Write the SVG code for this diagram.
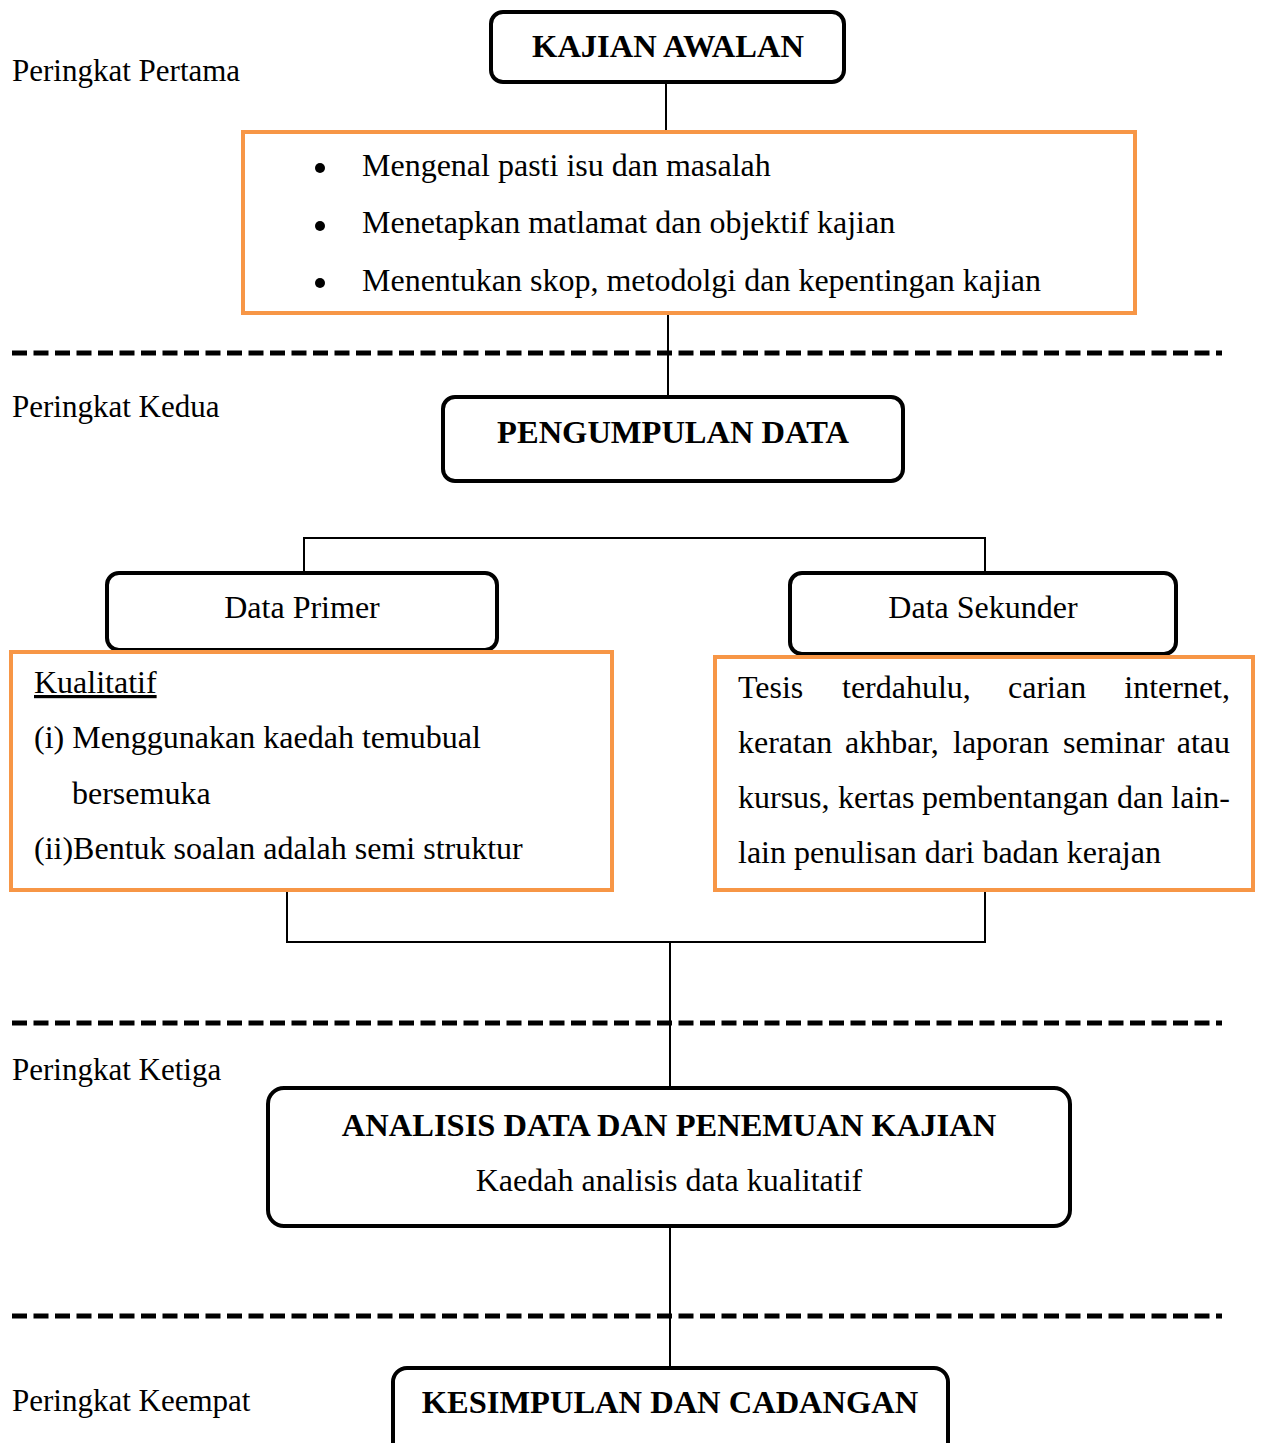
<svg xmlns="http://www.w3.org/2000/svg" width="1262" height="1443" viewBox="0 0 1262 1443">
<style>
text{font-family:"Liberation Serif","Times New Roman",serif;font-size:32px;fill:#000}
.b{font-weight:bold;font-size:32.5px}
.lb{font-size:31px}
.m{text-anchor:middle}
.box{fill:#fff;stroke:#000;stroke-width:4}
.or{fill:#fff;stroke:#F79646;stroke-width:4}
.ln{stroke:#000;stroke-width:2;fill:none}
.dash{stroke:#000;stroke-width:5;stroke-dasharray:15 6.5;fill:none}
</style>
<rect width="1262" height="1443" fill="#fff"/>
<g id="connectors">
<line class="ln" x1="666" y1="82" x2="666" y2="132"/>
<line class="ln" x1="668" y1="313" x2="668" y2="397"/>
<polyline class="ln" points="304,573 304,538 985,538 985,573"/>
<polyline class="ln" points="287,890 287,942 985,942 985,890"/>
<line class="ln" x1="670" y1="942" x2="670" y2="1088"/>
<line class="ln" x1="670" y1="1226" x2="670" y2="1368"/>
</g>
<g id="dividers">
<line class="dash" x1="12" y1="353" x2="1222" y2="353"/>
<line class="dash" x1="12" y1="1023" x2="1222" y2="1023"/>
<line class="dash" x1="12" y1="1316" x2="1222" y2="1316"/>
</g>
<g id="labels">
<text class="lb" x="12" y="81">Peringkat Pertama</text>
<text class="lb" x="12" y="417">Peringkat Kedua</text>
<text class="lb" x="12" y="1080">Peringkat Ketiga</text>
<text class="lb" x="12" y="1411">Peringkat Keempat</text>
</g>
<g id="kajian-awalan">
<rect class="box" x="491" y="12" width="353" height="70" rx="12"/>
<text class="b m" x="668" y="57">KAJIAN AWALAN</text>
</g>
<g id="kajian-awalan-detail">
<rect class="or" x="243" y="132" width="892" height="181"/>
<circle cx="320" cy="168" r="5"/>
<circle cx="320" cy="226" r="5"/>
<circle cx="320" cy="283" r="5"/>
<text x="362" y="176">Mengenal pasti isu dan masalah</text>
<text x="362" y="233">Menetapkan matlamat dan objektif kajian</text>
<text x="362" y="291">Menentukan skop, metodolgi dan kepentingan kajian</text>
</g>
<g id="pengumpulan-data">
<rect class="box" x="443" y="397" width="460" height="84" rx="12"/>
<text class="b m" x="673" y="443">PENGUMPULAN DATA</text>
</g>
<g id="data-primer">
<rect class="box" x="107" y="573" width="390" height="77" rx="12"/>
<text class="m" x="302" y="618">Data Primer</text>
</g>
<g id="data-sekunder">
<rect class="box" x="790" y="573" width="386" height="81" rx="12"/>
<text class="m" x="983" y="618">Data Sekunder</text>
</g>
<g id="kualitatif">
<rect class="or" x="11" y="652" width="601" height="238"/>
<text x="34" y="693" text-decoration="underline">Kualitatif</text>
<text x="34" y="748">(i) Menggunakan kaedah temubual</text>
<text x="72" y="804">bersemuka</text>
<text x="34" y="859">(ii)Bentuk soalan adalah semi struktur</text>
</g>
<g id="sekunder-detail">
<rect class="or" x="715" y="657" width="538" height="233"/>
<text y="698"><tspan x="738">Tesis</tspan><tspan x="842">terdahulu,</tspan><tspan x="1008">carian</tspan><tspan x="1230" text-anchor="end">internet,</tspan></text>
<text y="753"><tspan x="738">keratan</tspan><tspan x="845">akhbar,</tspan><tspan x="953">laporan</tspan><tspan x="1063">seminar</tspan><tspan x="1230" text-anchor="end">atau</tspan></text>
<text y="808"><tspan x="738">kursus,</tspan><tspan x="838">kertas</tspan><tspan x="922">pembentangan</tspan><tspan x="1117">dan</tspan><tspan x="1230" text-anchor="end">lain-</tspan></text>
<text x="738" y="863">lain penulisan dari badan kerajan</text>
</g>
<g id="analisis">
<rect class="box" x="268" y="1088" width="802" height="138" rx="16"/>
<text class="b m" x="669" y="1136">ANALISIS DATA DAN PENEMUAN KAJIAN</text>
<text class="m" x="669" y="1191">Kaedah analisis data kualitatif</text>
</g>
<g id="kesimpulan">
<rect class="box" x="393" y="1368" width="555" height="100" rx="14"/>
<text class="b m" x="670" y="1413">KESIMPULAN DAN CADANGAN</text>
</g>
</svg>
